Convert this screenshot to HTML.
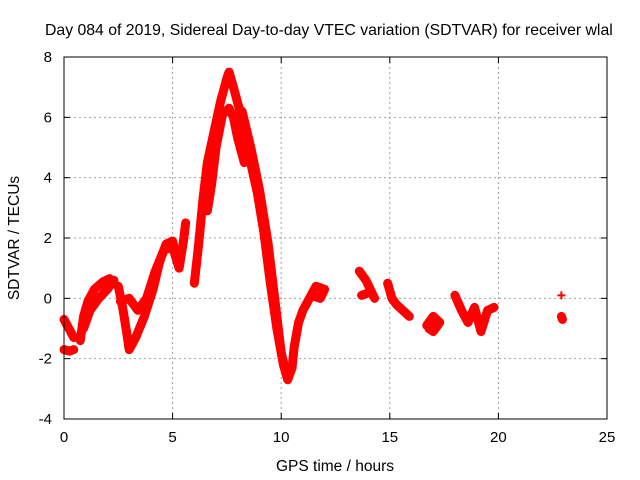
<!DOCTYPE html>
<html><head><meta charset="utf-8"><style>body{margin:0;background:#fff}svg{display:block;font-family:"Liberation Sans",sans-serif}</style></head>
<body>
<svg id="c" width="640" height="480" viewBox="0 0 640 480">
<rect width="640" height="480" fill="#fff"/>
<text x="45" y="35" font-size="15.8">Day 084 of 2019, Sidereal Day-to-day VTEC variation (SDTVAR) for receiver wlal</text>
<text x="335" y="471" font-size="15.5" text-anchor="middle">GPS time / hours</text>
<text transform="translate(19,238) rotate(-90)" font-size="15.5" text-anchor="middle">SDTVAR / TECUs</text>
<g id="grid"></g><g id="marks"></g>
<rect x="64" y="57" width="543" height="362" fill="none" stroke="#000" stroke-width="1"/>
</svg>
<script>
const xTicks=[0,5,10,15,20,25];
const yTicks=[-4,-2,0,2,4,6,8];
const seg1=[[0,-0.7],[0.15,-0.9],[0.3,-1.1],[0.45,-1.3]];
const seg2=[[0,-1.7],[0.25,-1.75],[0.45,-1.7]];
const seg3=[[0.75,-1.4],[0.9,-0.6],[1.1,-0.1],[1.4,0.3],[1.8,0.55],[2.1,0.65],[2.3,0.5]];
const seg3b=[[0.9,-1.0],[1.2,-0.4],[1.6,0.0],[2.0,0.3],[2.3,0.6]];
const seg4=[[2.5,0.4],[2.7,-0.3],[2.9,-1.2],[3.0,-1.7],[3.3,-1.3],[3.7,-0.6],[4.1,0.3],[4.4,1.2],[4.7,1.8],[5.0,1.9],[5.2,1.3]];
const seg4b=[[2.6,-0.1],[3.0,0.0],[3.4,-0.4],[3.8,0.0],[4.2,0.9],[4.6,1.6],[5.0,1.7],[5.3,1.0],[5.5,1.9],[5.6,2.5]];
const seg5=[[6.0,0.5],[6.2,1.8],[6.4,3.3],[6.6,4.5],[6.9,5.5],[7.2,6.5],[7.5,7.3],[7.6,7.5],[7.8,7.0]];
const seg5b=[[6.6,2.9],[6.8,3.8],[7.0,5.0],[7.3,6.1],[7.6,6.3],[7.8,6.0],[8.0,5.3],[8.3,4.5]];
const seg6=[[7.8,7.0],[8.1,6.2],[8.5,4.8],[8.9,3.5],[9.2,2.2],[9.5,0.5],[9.8,-1.0],[10.1,-2.2],[10.3,-2.7],[10.5,-2.3]];
const seg6b=[[8.2,6.2],[8.6,5.0],[9.0,3.6],[9.4,1.8],[9.7,0.0],[10.0,-1.8],[10.2,-2.4]];
const seg7=[[10.5,-2.3],[10.6,-1.6],[10.8,-0.8],[11.0,-0.4],[11.3,0.0],[11.6,0.4],[12.0,0.3],[11.8,0.0],[11.4,0.1]];
const seg8=[[13.6,0.9],[13.9,0.6],[14.1,0.3],[14.3,0.0]];
const seg8b=[[13.7,0.1],[14.1,0.2]];
const seg9=[[14.9,0.5],[15.1,0.0],[15.3,-0.2],[15.6,-0.4],[15.9,-0.6]];
const seg10=[[16.7,-0.9],[17.0,-0.6],[17.3,-0.8],[17.0,-1.1],[16.8,-1.0]];
const seg11=[[18.0,0.1],[18.3,-0.4],[18.6,-0.8],[18.9,-0.3],[19.2,-1.1],[19.5,-0.4],[19.8,-0.3]];
const seg12=[[22.9,0.1]];
const seg13=[[22.9,-0.6],[22.95,-0.7]];
const segments=[seg1,seg2,seg3,seg3b,seg4,seg4b,seg5,seg5b,seg6,seg6b,seg7,seg8,seg8b,seg9,seg10,seg11,seg12,seg13];
const NS='http://www.w3.org/2000/svg';
const X0=64,X1=607,Y0=419,Y1=57;
function sx(v){return X0+(v-0)/(25-0)*(X1-X0);}
function sy(v){return Y0-(v+4)/(12)*(Y0-Y1);}
const grid=document.getElementById('grid'),marks=document.getElementById('marks');
function mk(t,a,p){const e=document.createElementNS(NS,t);for(const k in a)e.setAttribute(k,a[k]);p.appendChild(e);return e;}
xTicks.forEach(t=>{const x=sx(t);
 if(t>0&&t<25){const g=mk('line',{x1:x,x2:x,y1:Y1,y2:Y0,stroke:'#a0a0a0','stroke-dasharray':'2,3'},grid);
 
 }
 mk('line',{x1:x,x2:x,y1:Y0,y2:Y0-6,stroke:'#000'},grid);mk('line',{x1:x,x2:x,y1:Y1,y2:Y1+6,stroke:'#000'},grid);
 const l=mk('text',{x:x,y:442,'font-size':15,'text-anchor':'middle'},grid);l.textContent=t;
 
 });
yTicks.forEach(t=>{const y=sy(t);
 if(t>-4&&t<8){const g=mk('line',{x1:X0,x2:X1,y1:y,y2:y,stroke:'#a0a0a0','stroke-dasharray':'2,3'},grid);
 
 }
 mk('line',{x1:X0,x2:X0+6,y1:y,y2:y,stroke:'#000'},grid);mk('line',{x1:X1,x2:X1-6,y1:y,y2:y,stroke:'#000'},grid);
 const l=mk('text',{x:52,y:y+5,'font-size':15,'text-anchor':'end'},grid);l.textContent=t;
 
 });
segments.forEach(s=>{
 if(s.length>1){const p=mk('polyline',{points:s.map(d=>sx(d[0])+','+sy(d[1])).join(' '),fill:'none',stroke:'#f00','stroke-width':9,'stroke-linejoin':'round','stroke-linecap':'round'},marks);
 
 }
 s.forEach(d=>{const x=sx(d[0]),y=sy(d[1]);
  const m=mk('path',{d:`M${x-4},${y}H${x+4}M${x},${y-4}V${y+4}`,stroke:'#f00','stroke-width':2},marks);
  
  });
});
</script>
</body></html>
